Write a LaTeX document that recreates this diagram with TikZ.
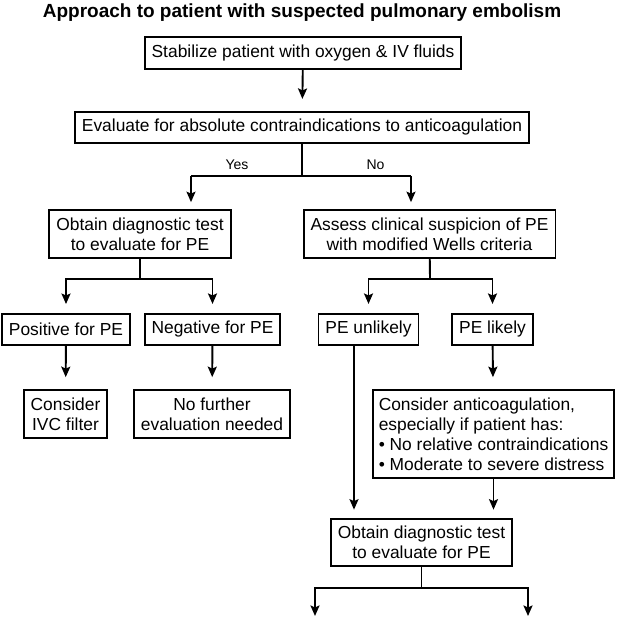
\documentclass[tikz,border=0pt]{standalone}
\usepackage{fontspec}
\setmainfont{Liberation Sans}
\usetikzlibrary{arrows.meta}
\tikzset{
  box/.style={draw,line width=1.9pt,inner xsep=7pt,inner ysep=7.5pt,align=center,font=\fontsize{17.4}{20}\selectfont},
  onebox/.style={box,minimum height=31pt},
  link/.style={line width=1.9pt},
  arr/.style={link,-{Stealth[length=10.5pt,width=9pt,inset=2pt]},shorten >=10pt},
  tag/.style={inner sep=0pt,font=\fontsize{14}{16}\selectfont}
}
\begin{document}
\begin{tikzpicture}[x=1pt,y=-1pt]
\useasboundingbox (0,0) rectangle (619,617);
% title
\node[inner sep=0pt,font=\bfseries\fontsize{19}{22}\selectfont] (title) at (302,13) {Approach to patient with suspected pulmonary embolism};
% first steps
\node[onebox] (stab) at (303,53) {Stabilize patient with oxygen \& IV fluids};
\node[onebox] (eval) at (302,127.5) {Evaluate for absolute contraindications to anticoagulation};
\draw[arr,shorten >=12pt] (stab) -- (eval);
% yes / no
\node[box] (testL) at (140,234) {Obtain diagnostic test\\to evaluate for PE};
\node[box] (wells) at (429.5,234) {Assess clinical suspicion of PE\\with modified Wells criteria};
\coordinate (forkA) at (302,176);
\coordinate (yes) at (191,176);
\coordinate (no) at (411,176);
\draw[link] (eval) -- (forkA);
\draw[link] (yes) -- (no);
\draw[arr,shorten >=7pt] (yes) -- (yes |- testL.north);
\draw[arr,shorten >=7pt] (no) -- (no |- wells.north);
\node[tag] (yeslbl) at (237,165) {Yes};
\node[tag] (nolbl) at (375.5,165) {No};
% left branch
\node[onebox] (pos) at (66,329.5) {Positive for PE};
\node[onebox] (neg) at (212.5,329.5) {Negative for PE};
\coordinate (forkB) at (140,279);
\draw[link] (testL) -- (forkB);
\draw[arr,shorten >=9pt] (forkB) -| (pos);
\draw[arr,shorten >=9pt] (forkB) -| (neg);
\node[box] (ivc) at (65.5,414) {Consider\\IVC filter};
\node[box] (nofurther) at (212,414) {No further\\evaluation needed};
\draw[arr,shorten >=12pt] (pos) -- (ivc);
\draw[arr,shorten >=12pt] (neg) -- (nofurther);
% right branch
\node[onebox] (unlikely) at (368.5,329.5) {PE unlikely};
\node[onebox] (likely) at (492.5,329.5) {PE likely};
\coordinate (forkC) at (430,279);
\draw[link] (wells) -- (forkC);
\draw[arr,shorten >=9pt] (forkC) -| (unlikely);
\draw[arr,shorten >=9pt] (forkC) -| (likely);
\node[box,align=left,inner xsep=6pt] (anticoag) at (493.5,434) {Consider anticoagulation,\\especially if patient has:\\\textbullet\ No relative contraindications\\\textbullet\ Moderate to severe distress};
\draw[arr,shorten >=12pt] (likely) -- (anticoag);
\node[box] (testR) at (421.5,542.5) {Obtain diagnostic test\\to evaluate for PE};
\draw[arr,shorten >=8pt] ([xshift=-14.5pt]unlikely.south) -- ([xshift=-14.5pt]unlikely.south |- testR.north);
\draw[arr,shorten >=8pt] (anticoag.south) -- (anticoag.south |- testR.north);
% last split
\coordinate (forkD) at (421.5,588);
\coordinate (outL) at (315,616);
\coordinate (outR) at (528,616);
\draw[link] (testR) -- (forkD);
\draw[arr,shorten >=0pt] (forkD) -| (outL);
\draw[arr,shorten >=0pt] (forkD) -| (outR);
\end{tikzpicture}
\end{document}
